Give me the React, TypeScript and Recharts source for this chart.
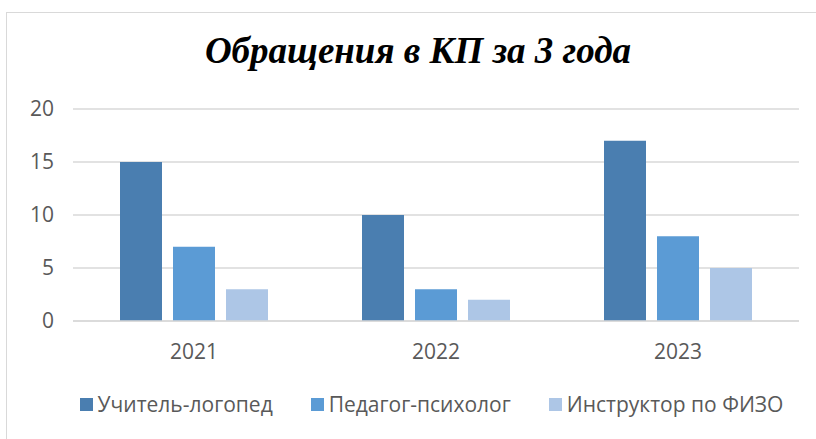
import { Bar, BarChart, CartesianGrid, XAxis, YAxis } from "recharts";

// Years on the category axis and requests per specialist.
const YEARS = ["2021", "2022", "2023"];
const SPEECH_THERAPIST = [15, 10, 17];
const PSYCHOLOGIST = [7, 3, 8];
const PE_INSTRUCTOR = [3, 2, 5];
const Y_TICKS = [0, 5, 10, 15, 20];

const SERIES = [
  { key: "logoped", name: "Учитель-логопед", color: "#4a7eb0" },
  { key: "psiholog", name: "Педагог-психолог", color: "#5b9bd5" },
  { key: "fizo", name: "Инструктор по ФИЗО", color: "#adc6e6" },
];

const data = YEARS.map((year, i) => ({
  year,
  logoped: SPEECH_THERAPIST[i],
  psiholog: PSYCHOLOGIST[i],
  fizo: PE_INSTRUCTOR[i],
}));

const FONT = "'Open Sans', sans-serif";
const TEXT = "#595959";

// Legend drawn as plain HTML so it doesn't eat into the plot area.
function LegendRow() {
  return (
    <div
      style={{
        position: "absolute",
        left: 0,
        top: 390,
        width: 816,
        display: "flex",
        justifyContent: "center",
        gap: 38,
        fontFamily: FONT,
        fontSize: 21,
        color: TEXT,
        paddingLeft: 47,
        boxSizing: "border-box",
      }}
    >
      {SERIES.map((s) => (
        <div key={s.key} style={{ display: "flex", alignItems: "center" }}>
          <span
            style={{
              width: 13,
              height: 13,
              background: s.color,
              marginRight: 5,
              display: "inline-block",
            }}
          />
          <span>{s.name}</span>
        </div>
      ))}
    </div>
  );
}

export default function App() {
  return (
    <div
      style={{
        position: "absolute",
        left: 0,
        top: 0,
        width: 816,
        height: 439,
        overflow: "hidden",
        background: "#fff",
      }}
    >
      <div
        style={{
          position: "absolute",
          left: 6,
          top: 12,
          width: 840,
          height: 460,
          border: "1.5px solid #d9d9d9",
        }}
      />
      <div
        style={{
          position: "absolute",
          left: 0,
          top: 29,
          width: 836,
          textAlign: "center",
          fontFamily: "'Liberation Serif', 'Times New Roman', serif",
          fontWeight: "bold",
          fontStyle: "italic",
          fontSize: 37,
          color: "#000",
        }}
      >
        Обращения в КП за 3 года
      </div>
      <div style={{ position: "absolute", left: 0, top: 0 }}>
        <BarChart
          width={816}
          height={439}
          data={data}
          margin={{ top: 109, right: 17, bottom: 88, left: 0 }}
          barGap={11}
          barCategoryGap={47}
        >
          <CartesianGrid vertical={false} stroke="#d9d9d9" strokeWidth={1.5} />
          <XAxis
            dataKey="year"
            height={30}
            axisLine={{ stroke: "#d9d9d9", strokeWidth: 1.5 }}
            tickLine={false}
            tickSize={0}
            tickMargin={23}
            tick={{ fill: TEXT, fontSize: 21, fontFamily: FONT }}
          />
          <YAxis
            width={73}
            domain={[0, 20]}
            ticks={Y_TICKS}
            axisLine={false}
            tickLine={false}
            tickSize={0}
            tickMargin={19}
            tick={{ fill: TEXT, fontSize: 21, fontFamily: FONT }}
          />
          {SERIES.map((s) => (
            <Bar
              key={s.key}
              dataKey={s.key}
              name={s.name}
              fill={s.color}
              isAnimationActive={false}
            />
          ))}
        </BarChart>
      </div>
      <LegendRow />
    </div>
  );
}
